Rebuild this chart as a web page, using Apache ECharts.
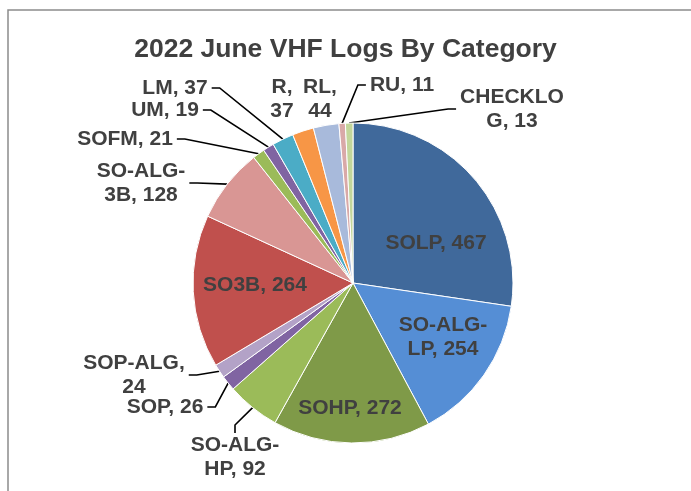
<!DOCTYPE html>
<html lang="en">
<head>
    <meta charset="UTF-8">
    <title>2022 June VHF Logs By Category</title>
    <style>
        html, body { margin: 0; padding: 0; background: #fff; }
        #main { width: 691px; height: 491px; }
    </style>
</head>
<body>
<div id="main"></div>
<script src="https://cdn.jsdelivr.net/npm/echarts@6/dist/echarts.min.js"></script>
<script>
    // categories, clockwise from 12 o'clock
    var categories = ['SOLP', 'SO-ALG-LP', 'SOHP', 'SO-ALG-HP', 'SOP', 'SOP-ALG', 'SO3B',
        'SO-ALG-3B', 'SOFM', 'UM', 'LM', 'R', 'RL', 'RU', 'CHECKLOG'];
    var logCounts = [467, 254, 272, 92, 26, 24, 264, 128, 21, 19, 37, 37, 44, 11, 13];
    var sliceColors = ['#40699b', '#558ed5', '#7f9a48', '#9bbb59', '#8064a2', '#b3a2c7', '#c0504d',
        '#d99694', '#9bbb59', '#8064a2', '#4bacc6', '#f79646', '#a8badb', '#d9a9a8', '#c3d69b'];
    // where Excel wrapped each label (char index in "name, value"), 0 = no wrap
    var wrapAt = [0, 7, 0, 7, 0, 8, 0, 7, 0, 0, 0, 2, 3, 0, 7];
    // slices with the label drawn inside
    var insideLabel = [true, true, true, false, false, false, true, false, false, false, false, false, false, false, false];
    // label centres
    var labelPos = [[436, 243], [443, 337], [350, 408], [235, 457], [165, 407], [134, 375], [255, 285],
        [141, 183], [125, 139], [165, 110], [175, 88], [282, 99], [320, 99], [402, 85], [512, 109]];
    var noLeader = ['R', 'RL'];

    var myChart = echarts.init(document.getElementById('main'));

    var pieData = categories.map(function (name, i) {
        var inside = insideLabel[i];
        return {
            name: name,
            value: logCounts[i],
            itemStyle: { color: sliceColors[i] },
            label: { position: inside ? 'inside' : 'outside' },
            labelLine: { show: !inside && noLeader.indexOf(name) < 0 }
        };
    });

    var option = {
        backgroundColor: '#fff',
        animation: false,
        title: {
            text: '2022 June VHF Logs By Category',
            left: 'center',
            top: 31,
            textStyle: {
                fontFamily: 'Liberation Sans, Arial, sans-serif',
                fontSize: 26.5,
                fontWeight: 'bold',
                color: '#404040'
            }
        },
        graphic: [{
            // chart area frame, runs off the right and bottom edges
            type: 'rect',
            shape: { x: 8, y: 10, width: 720, height: 520 },
            style: { fill: null, stroke: '#8c8c8c', lineWidth: 1.5 },
            silent: true
        }],
        series: [{
            type: 'pie',
            center: [353, 283],
            radius: 160,
            startAngle: 90,
            clockwise: true,
            avoidLabelOverlap: false,
            itemStyle: { borderColor: '#fff', borderWidth: 1 },
            label: {
                fontFamily: 'Liberation Sans, Arial, sans-serif',
                fontSize: 21,
                fontWeight: 'bold',
                color: '#404040',
                lineHeight: 24,
                padding: [0, 4],
                formatter: function (p) {
                    var s = p.name + ', ' + p.value;
                    var k = wrapAt[p.dataIndex];
                    if (k > 0) {
                        s = s.slice(0, k) + '\n' + s.slice(k).replace(/^ /, '');
                    }
                    return s;
                }
            },
            labelLine: {
                length: 10,
                length2: 8,
                lineStyle: { color: '#000', width: 1.6 }
            },
            labelLayout: function (params) {
                var pos = labelPos[params.dataIndex];
                return { x: pos[0], y: pos[1], align: 'center', verticalAlign: 'middle' };
            },
            emphasis: { disabled: true },
            data: pieData
        }]
    };

    myChart.setOption(option);
</script>
</body>
</html>
